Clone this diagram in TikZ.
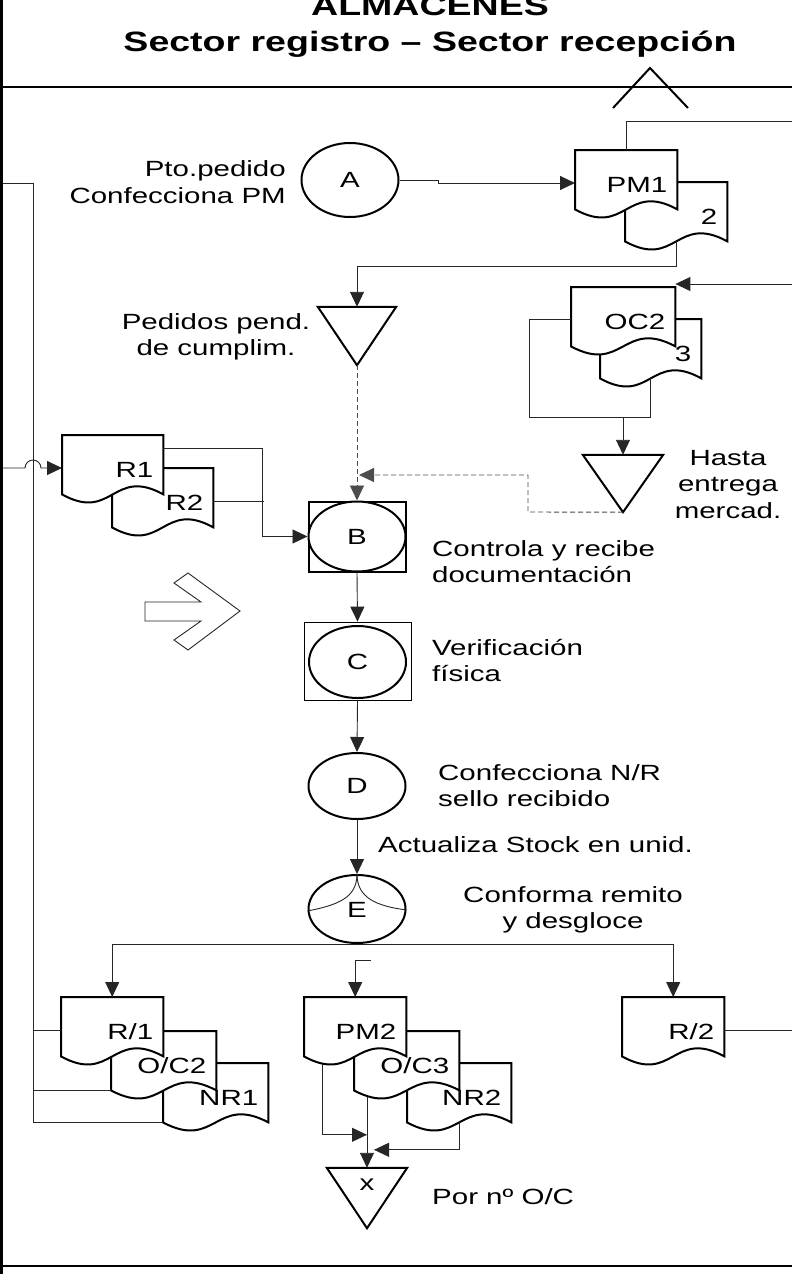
\documentclass[tikz,border=0pt]{standalone}
\usepackage{fontspec}
\setmainfont{Liberation Sans}[FakeStretch=1.34]
\usetikzlibrary{shapes.geometric,arrows.meta,calc}
\tikzset{
 shp/.style={line width=2pt},
 cn/.style={line width=0.9pt, draw=black!85},
 arr/.style={cn, -{Triangle[length=15pt,width=14pt]}},
 dsh/.style={cn, draw=black!70, dash pattern=on 5pt off 3pt},
 lbl/.style={font=\fontsize{22}{26.5}\selectfont, inner sep=0pt},
 ttl/.style={font=\fontsize{28}{35}\selectfont\bfseries, inner sep=0pt},
 circ/.style={ellipse, draw, line width=2pt, minimum width=97, minimum height=72, inner sep=0pt, fill=white, font=\fontsize{22}{26.5}\selectfont},
 docn/.style={rectangle, inner sep=0pt, minimum height=59, anchor=north west},
 trin/.style={rectangle, inner sep=0pt},
}
\newcommand\docshape[4]{%
 \node[docn, minimum width=#4] (#1) at (#2,#3) {};
 \draw[shp, fill=white] (#1.south west) -- (#1.north west) -- (#1.north east) -- (#1.south east)
   .. controls ($(#1.south)+(0,-28)$) and ($(#1.south)+(0,28)$) .. (#1.south west) -- cycle;}
\newcommand\dlab[2]{\node[lbl, anchor=base east] (#1-t) at ($(#1.north east)+(-10,42)$) {#2};}
\newcommand\tri[1]{\draw[shp, fill=white] (#1.north west) -- (#1.north east) -- (#1.south) -- cycle;}
\begin{document}
\begin{tikzpicture}[x=1pt,y=-1pt]
\useasboundingbox (0,0) rectangle (792,1274);
% frame
\draw[line width=3pt] (1.5,0) -- (1.5,1274);
\draw[line width=2pt] (0,87) -- (792,87);
\draw[line width=1.5pt] (0,1266) -- (792,1266);
\draw[line width=2pt] (613,108) -- (650,68) -- (688,108);
\node[ttl, anchor=base] (t1) at (430,16) {ALMACENES};
\node[ttl, anchor=base] (t2) at (430,51) {Sector registro – Sector recepción};
% free ends
\coordinate (bL1) at (3,183);
\coordinate (bL2) at (3,468);
\coordinate (rE1) at (792,121);
\coordinate (rE2) at (792,284);
\coordinate (rE3) at (792,1030);
\coordinate (pmf) at (371,960);
% documents (back first)
\docshape{D2}{625}{182}{102}
\docshape{PM1}{575}{150}{102}
\docshape{D3}{600}{319}{101}
\docshape{OC2}{571}{287}{104}
\docshape{R2}{112}{468}{101}
\docshape{R1}{62}{435}{101}
\docshape{Na}{163}{1063}{105}
\docshape{Ob}{111}{1031}{105}
\docshape{Ra}{61}{997}{102}
\docshape{Nb}{407}{1063}{104}
\docshape{Oc}{354}{1031}{105}
\docshape{Pm}{304}{997}{102}
\docshape{Rc}{622}{997}{102}
% triangles
\node[trin, minimum width=78, minimum height=58] (P) at (357,336) {};
\tri{P}
\node[trin, minimum width=80, minimum height=57] (H) at (623,483.5) {};
\tri{H}
\node[trin, minimum width=80, minimum height=60] (X) at (367,1198) {};
\tri{X}
% process nodes
\node[circ, minimum height=74] (A) at (350,180) {A};
\node[draw, line width=2pt, minimum width=97, minimum height=70, inner sep=0pt] (Bb) at (357,536.5) {};
\node[circ, minimum height=70] (B) at (357,536.5) {B};
\node[draw, line width=0.8pt, minimum width=107, minimum height=78, inner sep=0pt] (Cb) at (357.5,661) {};
\node[circ, minimum height=72] (C) at (357.5,662) {C};
\node[circ, minimum height=66] (D) at (357,786) {D};
\node[circ, minimum height=68] (E) at (357,909) {};
\draw[cn] (E.north) .. controls +(0,24) and +(30,-6) .. ([yshift=-2pt]E.west);
\draw[cn] (E.north) .. controls +(0,24) and +(-30,-4) .. ([yshift=-1pt]E.east);
\node[lbl, anchor=base] (E-t) at (357,917) {E};
% hollow arrow
\draw[cn] (145,602) -- (201,602) -- (174,583) -- (188,573) -- (240,611) -- (188,650) -- (174,640) -- (201,621) -- (145,621) -- cycle;
% connectors
\draw[arr] (A.east) -- ++(39,0) -- ++(0,3) -- ($(PM1.north west)+(0,33)$);
\draw[cn] (PM1.north) |- (rE1);
\draw[arr] (D2.south) -- ++(0,25) -| (P.north);
\draw[arr] (rE2) -- ($(OC2.north east)+(0,-3)$);
\draw[cn] ($(OC2.north west)+(0,32)$) -| (529,417) -| (D3.south);
\coordinate (oj) at (623,417);
\draw[arr] (oj) -- (H.north);
\draw[dsh, -{Triangle[length=15pt,width=14pt]}] (P.south) -- (Bb.north);
\coordinate (jn) at (359,475);
\draw[dsh, -{Triangle[length=15pt,width=14pt]}] (H.south) -- (528,512) -- (528,475) -- (jn);
\draw[cn] ($(R2.north east)+(0,33)$) -- ++(51,0);
\draw[arr] ($(R1.north east)+(0,13)$) -| ($(Bb.west)+(-45,0)$) -- (Bb.west);
\draw[arr] (bL2) -- (25,468) arc[start angle=180, end angle=360, radius=8] -- ($(R1.north west)+(0,33)$);
\draw[cn] (bL1) -- ++(30,0) |- (Na.south west);
\draw[cn] ($(Ra.north west)+(0,33)$) -- ++(-28,0);
\draw[cn] (Ob.south west) -- ++(-78,0);
\draw[arr] (Bb.south) -- (Cb.north);
\draw[arr] (Cb.south) -- (D.north);
\draw[arr] (D.south) -- (E.north);
\draw[arr] (E.south) -| (Ra.north);
\draw[arr] (E.south) -| (Rc.north);
\draw[arr] (pmf) -| (Pm.north);
\draw[cn] ($(Rc.north east)+(0,33)$) -- (rE3);
\draw[arr] ($(Pm.south west)+(18,8)$) |- ($(X.north)+(0,-33)$);
\draw[arr] ($(Oc.south west)+(13,7)$) -- (X.north);
\draw[arr] (Nb.south) |- ($(X.north)+(7,-18)$);
% document labels
\dlab{D2}{2}
\dlab{PM1}{PM1}
\dlab{D3}{3}
\dlab{OC2}{OC2}
\dlab{R1}{R1}
\dlab{R2}{R2}
\dlab{Ra}{R/1}
\dlab{Ob}{O/C2}
\dlab{Na}{NR1}
\dlab{Pm}{PM2}
\dlab{Oc}{O/C3}
\dlab{Nb}{NR2}
\dlab{Rc}{R/2}
\node[lbl, anchor=base] (X-t) at ($(X.north)+(0,23)$) {x};
% text labels
\node[lbl, anchor=base east] (l1a) at (286,176) {Pto.pedido};
\node[lbl, anchor=base east] (l1b) at (286,203) {Confecciona PM};
\node[lbl, anchor=base] (l2a) at (216,329) {Pedidos pend.};
\node[lbl, anchor=base] (l2b) at (216,355) {de cumplim.};
\node[lbl, anchor=base] (l3a) at (728,465) {Hasta};
\node[lbl, anchor=base] (l3b) at (728,491) {entrega};
\node[lbl, anchor=base] (l3c) at (728,518) {mercad.};
\node[lbl, anchor=base west] (l4a) at (432,556) {Controla y recibe};
\node[lbl, anchor=base west] (l4b) at (432,582) {documentación};
\node[lbl, anchor=base west] (l5a) at (432,655) {Verificación};
\node[lbl, anchor=base west] (l5b) at (432,681) {física};
\node[lbl, anchor=base west] (l6a) at (438,780) {Confecciona N/R};
\node[lbl, anchor=base west] (l6b) at (438,806) {sello recibido};
\node[lbl, anchor=base west] (l7) at (378,852) {Actualiza Stock en unid.};
\node[lbl, anchor=base] (l8a) at (573,902) {Conforma remito};
\node[lbl, anchor=base] (l8b) at (573,928) {y desgloce};
\node[lbl, anchor=base west] (l9) at (432,1204) {Por nº O/C};
\end{tikzpicture}
\end{document}
